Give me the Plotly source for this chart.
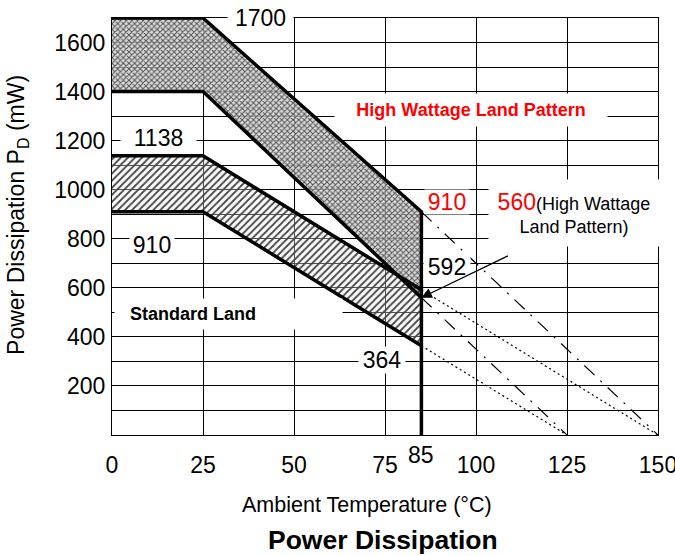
import plotly.graph_objects as go

# ---------------- data ----------------
temps = [0, 25, 85]                 # knee points (°C)
hw_upper = [1700, 1700, 910]        # High Wattage land pattern, upper curve (mW)
hw_lower = [1400, 1400, 560]        # High Wattage land pattern, lower curve (mW)
std_upper = [1138, 1138, 592]       # Standard land, upper curve (mW)
std_lower = [910, 910, 364]         # Standard land, lower curve (mW)
cutoff_temp = 85
floor_val = 0
ext_end_hi = 150                    # extension end temps for derating lines
ext_end_lo = 125

x_ticks = [0, 25, 50, 75, 100, 125, 150]
y_grid = list(range(0, 1800, 100))
y_labels = ["" if (v % 200 or v == 0) else str(v) for v in y_grid]
y_labels[-1] = ""

FONT = "Arial, Liberation Sans, sans-serif"
NUM = 23

fig = go.Figure()

# filled bands
fig.add_trace(go.Scatter(
    x=temps + temps[::-1], y=hw_upper + hw_lower[::-1],
    fill="toself", mode="lines", line=dict(width=0),
    fillcolor="rgba(205,205,205,0.8)",
    fillpattern=dict(shape="x", size=4, solidity=0.45, fgcolor="#555555",
                     bgcolor="rgba(210,210,210,0.8)", fillmode="replace"),
    hoverinfo="skip", showlegend=False))
fig.add_trace(go.Scatter(
    x=temps + temps[::-1], y=std_upper + std_lower[::-1],
    fill="toself", mode="lines", line=dict(width=0),
    fillcolor="rgba(255,255,255,0.3)",
    fillpattern=dict(shape="/", size=5, solidity=0.35, fgcolor="#444444",
                     bgcolor="rgba(240,240,240,0.35)", fillmode="replace"),
    hoverinfo="skip", showlegend=False))

# extension lines beyond 85 °C
dashdot = "14px,8px,2px,8px"
fig.add_trace(go.Scatter(x=[cutoff_temp, ext_end_hi], y=[hw_upper[-1], floor_val],
                         mode="lines", line=dict(color="black", width=1.2, dash=dashdot),
                         showlegend=False, hoverinfo="skip"))
fig.add_trace(go.Scatter(x=[cutoff_temp, ext_end_lo], y=[hw_lower[-1], floor_val],
                         mode="lines", line=dict(color="black", width=1.2, dash=dashdot),
                         showlegend=False, hoverinfo="skip"))
fig.add_trace(go.Scatter(x=[cutoff_temp, ext_end_hi], y=[std_upper[-1], floor_val],
                         mode="lines", line=dict(color="black", width=1.2, dash="2px,3px"),
                         showlegend=False, hoverinfo="skip"))
fig.add_trace(go.Scatter(x=[cutoff_temp, ext_end_lo], y=[std_lower[-1], floor_val],
                         mode="lines", line=dict(color="black", width=1.2, dash="2px,3px"),
                         showlegend=False, hoverinfo="skip"))

# thick curves
fig.add_trace(go.Scatter(x=temps + [cutoff_temp], y=hw_upper + [floor_val], mode="lines",
                         line=dict(color="black", width=3.5), showlegend=False,
                         hoverinfo="skip", cliponaxis=False))
for ys in (hw_lower, std_upper, std_lower):
    fig.add_trace(go.Scatter(x=temps, y=ys, mode="lines",
                             line=dict(color="black", width=3.5), showlegend=False,
                             hoverinfo="skip", cliponaxis=False))

ann = []


def label(text, x, y, size=NUM, color="black", bold=False, w=None, h=None,
          align="center"):
    t = f"<b>{text}</b>" if bold else text
    d = dict(x=x, y=y, xref="x", yref="y", text=t, showarrow=False,
             font=dict(family=FONT, size=size, color=color),
             bgcolor="white", borderpad=0, align=align,
             xanchor="center", yanchor="middle")
    if w:
        d["width"] = w
    if h:
        d["height"] = h
    ann.append(d)


label(str(hw_upper[0]), 40.7, 1700, w=65, h=28)
label(str(std_upper[0]), 12.9, 1212, w=75, h=28)
label(str(std_lower[0]), 11.1, 776, w=44, h=26)
label("&nbsp;&nbsp;&nbsp;Standard Land", 31.9, 494, size=18, bold=True, w=227, h=30,
      align="left")
label("High Wattage Land Pattern", 98.6, 1323, size=18, color="red", bold=True,
      w=272, h=32)
label(str(hw_upper[-1]), 92.0, 951, color="red", w=44, h=24)
label(str(std_upper[-1]), 92.0, 686, w=46, h=26)
label(str(std_lower[-1]), 74.3, 306, w=46, h=26)
ann.append(dict(x=126.8, y=906, xref="x", yref="y",
                text=f"<span style='color:red;font-size:{NUM}px'>{hw_lower[-1]}</span>"
                     "(High Wattage<br>Land Pattern)",
                showarrow=False, font=dict(family=FONT, size=18, color="black"),
                bgcolor="white", borderpad=0, align="center", width=170, height=66,
                xanchor="center", yanchor="middle"))
# arrow to 560 point
ann.append(dict(x=cutoff_temp, y=hw_lower[-1], xref="x", yref="y", ax=110, ay=739,
                axref="x", ayref="y", text=" ", showarrow=True, arrowhead=2,
                arrowsize=1.6, arrowwidth=1.3, arrowcolor="black", standoff=0))
# 85 tick label
ann.append(dict(x=cutoff_temp, y=-0.047, xref="x", yref="paper", text=str(cutoff_temp),
                showarrow=False, font=dict(family=FONT, size=NUM, color="black"),
                xanchor="center", yanchor="middle"))
# axis titles and chart title
ann.append(dict(x=0.467, y=-0.168, xref="paper", yref="paper",
                text="Ambient Temperature (°C)", showarrow=False,
                font=dict(family=FONT, size=21.5, color="black"),
                xanchor="center", yanchor="middle"))
ann.append(dict(x=0.496, y=-0.252, xref="paper", yref="paper",
                text="<b>Power Dissipation</b>", showarrow=False,
                font=dict(family=FONT, size=26.5, color="black"),
                xanchor="center", yanchor="middle"))
ann.append(dict(x=-0.172, y=0.528, xref="paper", yref="paper",
                text="Power Dissipation P<sub>D</sub> (mW)", showarrow=False,
                textangle=-90, font=dict(family=FONT, size=23, color="black"),
                xanchor="center", yanchor="middle"))

fig.update_layout(
    width=675, height=556, autosize=False,
    margin=dict(l=112, r=17, t=18, b=121, autoexpand=False),
    paper_bgcolor="white", plot_bgcolor="white",
    font=dict(family=FONT, size=NUM, color="black"),
    annotations=ann,
    xaxis=dict(range=[0, 150], tickvals=x_ticks, ticktext=[str(v) for v in x_ticks],
               showgrid=True, gridcolor="black", gridwidth=1, zeroline=False,
               showline=True, mirror=True, linecolor="black", linewidth=1,
               ticks="outside", ticklen=9, tickcolor="rgba(0,0,0,0)",
               ticklabeloverflow="allow", automargin=False,
               tickfont=dict(family=FONT, size=NUM, color="black")),
    yaxis=dict(range=[0, 1700], tickvals=y_grid, ticktext=y_labels,
               showgrid=True, gridcolor="black", gridwidth=1, zeroline=False,
               showline=True, mirror=True, linecolor="black", linewidth=1,
               ticks="outside", ticklen=1, tickcolor="rgba(0,0,0,0)",
               ticklabeloverflow="allow", automargin=False,
               tickfont=dict(family=FONT, size=NUM, color="black")),
)

fig.write_html(
    "out.html",
    config={"displayModeBar": False, "responsive": False},
    post_script="document.documentElement.style.margin='0';"
                "document.body.style.margin='0';"
                "document.body.style.overflow='hidden';",
)
